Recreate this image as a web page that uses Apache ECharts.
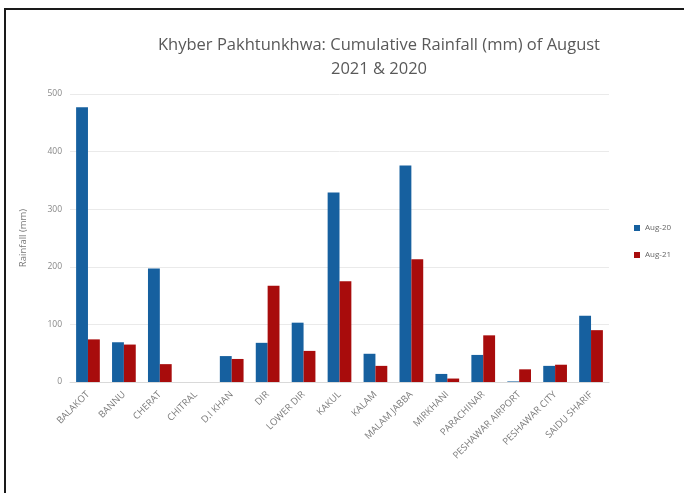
<!DOCTYPE html>
<html>
<head>
<meta charset="utf-8">
<script src="https://cdn.jsdelivr.net/npm/echarts@6/dist/echarts.min.js"></script>
<style>
  html, body { margin: 0; padding: 0; background: #fff; }
  #chart { position: absolute; left: 0; top: 0; width: 684px; height: 493px; }
  #frame { position: absolute; left: 4px; top: 8px; width: 690px; height: 500px; border: 2px solid #1a1a1a; pointer-events: none; }
</style>
</head>
<body>
<div id="chart"></div>
<div id="frame"></div>
<script>
// cumulative rainfall (mm), August 2020 vs 2021
var stations = ['BALAKOT', 'BANNU', 'CHERAT', 'CHITRAL', 'D.I KHAN', 'DIR', 'LOWER DIR', 'KAKUL',
    'KALAM', 'MALAM JABBA', 'MIRKHANI', 'PARACHINAR', 'PESHAWAR AIRPORT', 'PESHAWAR CITY', 'SAIDU SHARIF'];
var aug20 = [477, 69, 197, 0, 45, 68, 103, 329, 49, 376, 14, 47, 1, 28, 115];
var aug21 = [74, 65, 31, 0, 40, 167, 54, 175, 28, 213, 6, 81, 22, 30, 90];
var yTicks = [0, 100, 200, 300, 400, 500];

var myChart = echarts.init(document.getElementById('chart'));
var option = {
    title: {
        text: 'Khyber Pakhtunkhwa: Cumulative Rainfall (mm) of August\n2021 & 2020',
        left: 374,
        top: 28,
        textAlign: 'center',
        textStyle: {
            fontFamily: 'Open Sans',
            fontSize: 16.5,
            fontWeight: 'normal',
            color: '#595959',
            lineHeight: 24
        }
    },
    legend: {
        data: ['Aug-20', 'Aug-21'],
        orient: 'vertical',
        left: 629,
        top: 219,
        itemWidth: 6,
        itemHeight: 6,
        itemGap: 19,
        itemTextGap: 3,
        icon: 'rect',
        textStyle: { fontFamily: 'Open Sans', fontSize: 8, color: '#666' }
    },
    grid: { left: 70, right: 75, top: 94, bottom: 111 },
    xAxis: {
        type: 'category',
        data: stations,
        axisLine: { lineStyle: { color: '#d9d9d9' } },
        axisTick: { show: false },
        axisLabel: {
            interval: 0,
            rotate: 45,
            fontFamily: 'Open Sans',
            fontSize: 9.5,
            color: '#7a7a7a',
            margin: 11
        }
    },
    yAxis: {
        type: 'value',
        min: yTicks[0],
        max: yTicks[yTicks.length - 1],
        interval: 100,
        name: 'Rainfall (mm)',
        nameLocation: 'middle',
        nameGap: 42,
        nameMoveOverlap: false,
        nameTextStyle: { fontFamily: 'Open Sans', fontSize: 9.5, color: '#777' },
        axisLine: { show: false },
        axisTick: { show: false },
        axisLabel: { fontFamily: 'Open Sans', fontSize: 8.5, color: '#888', margin: 8 },
        splitLine: { lineStyle: { color: '#eaeaea' } }
    },
    series: [
        {
            name: 'Aug-20',
            type: 'bar',
            data: aug20,
            barGap: '0%',
            barCategoryGap: '34%',
            itemStyle: { color: '#16609f' }
        },
        {
            name: 'Aug-21',
            type: 'bar',
            data: aug21,
            itemStyle: { color: '#a80c0c' }
        }
    ]
};
myChart.setOption(option, true);
</script>
</body>
</html>
